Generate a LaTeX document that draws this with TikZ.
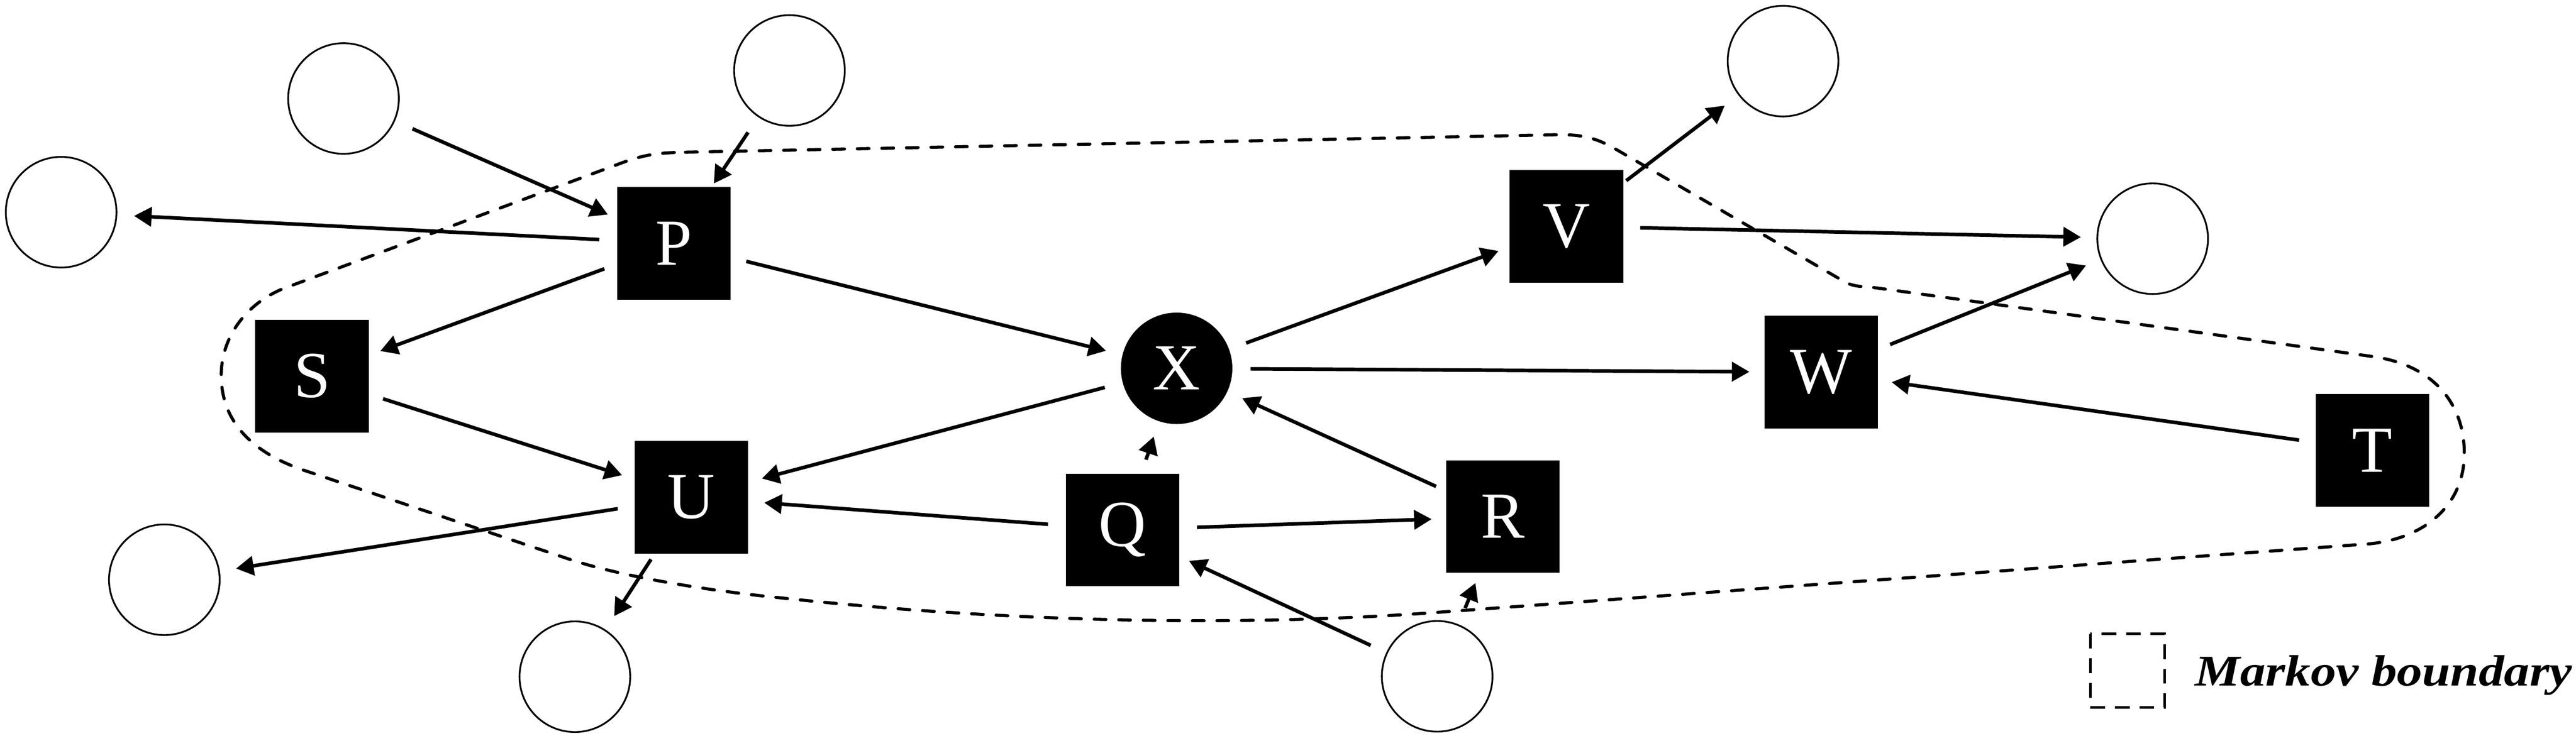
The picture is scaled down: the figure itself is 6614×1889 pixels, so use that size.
\documentclass[tikz,border=0pt]{standalone}
\usepackage{fontspec}
\setmainfont{Liberation Serif}
\usepackage{graphicx}
\usetikzlibrary{arrows.meta}
\tikzset{
  blk/.style={rectangle, fill=black, minimum width=2.91cm, minimum height=2.89cm, inner sep=0pt, text=white, font=\fontsize{48}{58}\selectfont},
  blkc/.style={circle, fill=black, minimum size=2.86cm, inner sep=0pt, text=white, font=\fontsize{48}{58}\selectfont},
  emp/.style={circle, draw=black, line width=0.045cm, minimum size=2.84cm, inner sep=0pt},
  arr/.style={line width=0.092cm, line join=round, -{Triangle[length=0.45cm,width=0.49cm]}},
  bnd/.style={line width=0.08cm, dash pattern=on 0.30cm off 0.33cm, line cap=round},
  legbox/.style={line width=0.07cm, dash pattern=on 0.38cm off 0.25cm},
  legtext/.style={anchor=base west, inner sep=0pt, font=\fontsize{32}{38}\selectfont\bfseries\itshape},
}
\begin{document}
\begin{tikzpicture}[x=0.01cm, y=-0.01cm]
\useasboundingbox (0,0) rectangle (6614,1889);
% empty circles
\node[emp] (A1) at (882,253) {};
\node[emp] (B1) at (2027,181) {};
\node[emp] (C1) at (157,545) {};
\node[emp] (D1) at (422,1489) {};
\node[emp] (E1) at (1476,1738) {};
\node[emp] (F)  at (3690,1737) {};
\node[emp] (G)  at (4578,157) {};
\node[emp] (H)  at (5527,613) {};
% black nodes
\node[blk] (P) at (1730,625) {P};
\node[blk] (S) at (801,966) {S};
\node[blk] (U) at (1775,1277) {U};
\node[blkc] (X) at (3021,946) {X};
\node[blk] (Q) at (2882,1361) {Q};
\node[blk] (R) at (3858,1327) {R};
\node[blk] (V) at (4022,581) {V};
\node[blk] (W) at (4676,956) {W};
\node[blk] (T) at (6091,1157) {T};
% Markov boundary
\draw[bnd] (1760,391) -- (4000,346) .. controls (4070,345) and (4105,358) .. (4150,384)
  -- (4740,726) .. controls (4760,735) and (4775,736) .. (4800,737)
  -- (6094,916) .. controls (6260,940) and (6330,1050) .. (6327,1170)
  .. controls (6325,1300) and (6220,1390) .. (6066,1398)
  -- (3700,1572) .. controls (3200,1610) and (2600,1600) .. (2000,1535)
  .. controls (1800,1515) and (1600,1480) .. (1473,1440)
  -- (772,1205) .. controls (620,1150) and (568,1060) .. (568,964)
  .. controls (568,860) and (640,770) .. (744,735)
  -- (1600,417) .. controls (1660,395) and (1700,392) .. (1760,391) -- cycle;
% arrows
\draw[arr, shorten <=0.49cm, shorten >=0.25cm] (A1) -- (P);
\draw[arr, shorten <=0.47cm, shorten >=0.10cm] (B1) -- (P);
\draw[arr, shorten <=0.45cm, shorten >=0.43cm] (P) -- (C1);
\draw[arr, shorten <=0.34cm, shorten >=0.31cm] (P) -- (S);
\draw[arr, shorten <=0.41cm, shorten >=0.43cm] (P) -- (X);
\draw[arr, shorten <=0.38cm, shorten >=0.33cm] (S) -- (U);
\draw[arr, shorten <=0.47cm, shorten >=0.36cm] (X) -- (U);
\draw[arr, shorten <=0.45cm, shorten >=0.41cm] (Q) -- (U);
\draw[arr, shorten <=0.43cm, shorten >=0.42cm] (U) -- (D1);
\draw[arr, shorten <=0.17cm, shorten >=0.41cm] (U) -- (E1);
\draw[arr, shorten <=0.37cm, shorten >=0.41cm] (Q) -- (X);
\draw[arr, shorten <=0.45cm, shorten >=0.36cm] (Q) -- (R);
\draw[arr, shorten <=0.44cm, shorten >=0.27cm] (F) -- (Q);
\draw[arr, shorten <=0.45cm, shorten >=0.27cm] (F) -- (R);
\draw[arr, shorten <=0.27cm, shorten >=0.41cm] (R) -- (X);
\draw[arr, shorten <=0.46cm, shorten >=0.30cm] (X) -- (V);
\draw[arr, shorten <=0.46cm, shorten >=0.38cm] (X) -- (W);
\draw[arr, shorten <=0.09cm, shorten >=0.44cm] (V) -- (G);
\draw[arr, shorten <=0.43cm, shorten >=0.40cm] (V) -- (H);
\draw[arr, shorten <=0.33cm, shorten >=0.40cm] (W) -- (H);
\draw[arr, shorten <=0.42cm, shorten >=0.35cm] (T) -- (W);
% legend
\draw[legbox] (5367,1628) rectangle (5558,1817);
\node[legtext] (leg) at (5635,1761) {\scalebox{1.16}[1]{Markov boundary}};
\end{tikzpicture}
\end{document}
